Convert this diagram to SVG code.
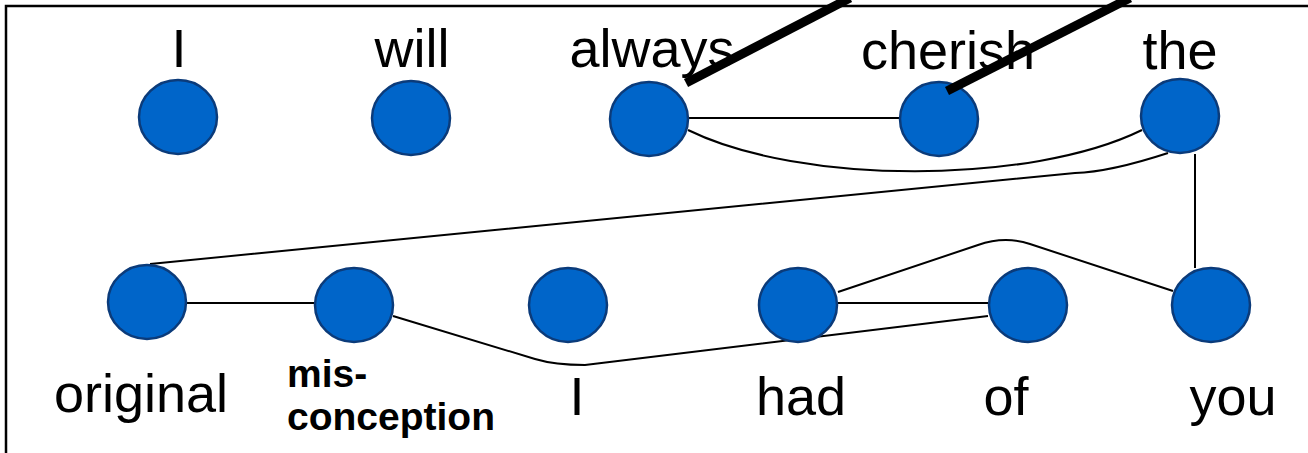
<svg xmlns="http://www.w3.org/2000/svg" width="1308" height="453" viewBox="0 0 1308 453">
  <style>
    .node { fill: #0065c9; stroke: #0b3b7a; stroke-width: 2.5; }
    .lbl { font-family: "Liberation Sans", Arial, sans-serif; font-size: 54px; fill: #000; text-anchor: middle; }
    .lbl-b { font-family: "Liberation Sans", Arial, sans-serif; font-size: 39px; font-weight: bold; fill: #000; }
    .edge { fill: none; stroke: #000; stroke-width: 2; }
    .mark { fill: none; stroke: #000; stroke-width: 9; }
    .frame { fill: none; stroke: #000; stroke-width: 2.5; }
  </style>
  <rect width="1308" height="453" fill="#fff"/>
  <!-- frame (top and left edges only) -->
  <path class="frame" d="M6,453 V6 H1308"/>

  <!-- connectors -->
  <g id="edges">
    <line class="edge" x1="688" y1="118" x2="900" y2="118"/>
    <path class="edge" d="M688,130 C800,185 1030,185 1142,130"/>
    <path class="edge" d="M1168,153 Q1110,172 1075,173 L150,264"/>
    <line class="edge" x1="1195" y1="154" x2="1195" y2="268"/>
    <line class="edge" x1="187" y1="303" x2="315" y2="303"/>
    <path class="edge" d="M393,316 L535,359 Q555,365 585,365 L988,316"/>
    <line class="edge" x1="838" y1="303" x2="988" y2="303"/>
    <path class="edge" d="M838,292 L978,245 C995,239 1012,238 1030,244 L1173,291"/>
  </g>

  <!-- top row -->
  <g id="n-I-top"><ellipse class="node" cx="178" cy="117" rx="39" ry="37"/><text class="lbl" x="179" y="67">I</text></g>
  <g id="n-will"><ellipse class="node" cx="411" cy="118" rx="39" ry="37"/><text class="lbl" x="412" y="67">will</text></g>
  <g id="n-always"><ellipse class="node" cx="649" cy="119" rx="39" ry="37"/><text class="lbl" x="652" y="67">always</text></g>
  <g id="n-cherish"><ellipse class="node" cx="939" cy="119" rx="39" ry="37"/><text class="lbl" x="948" y="69">cherish</text></g>
  <g id="n-the"><ellipse class="node" cx="1180" cy="116" rx="39" ry="37"/><text class="lbl" x="1180" y="69">the</text></g>

  <!-- bottom row -->
  <g id="n-original"><ellipse class="node" cx="147" cy="302" rx="39" ry="37"/><text class="lbl" x="141" y="412">original</text></g>
  <g id="n-misconception"><ellipse class="node" cx="354" cy="305" rx="39" ry="37"/>
    <text class="lbl-b" x="287" y="387">mis-</text><text class="lbl-b" x="287" y="430">conception</text></g>
  <g id="n-I-bottom"><ellipse class="node" cx="568" cy="305" rx="39" ry="37"/><text class="lbl" x="577" y="415">I</text></g>
  <g id="n-had"><ellipse class="node" cx="798" cy="305" rx="39" ry="37"/><text class="lbl" x="801" y="415">had</text></g>
  <g id="n-of"><ellipse class="node" cx="1028" cy="305" rx="39" ry="37"/><text class="lbl" x="1006" y="415">of</text></g>
  <g id="n-you"><ellipse class="node" cx="1211" cy="305" rx="39" ry="37"/><text class="lbl" x="1233" y="415">you</text></g>

  <!-- heavy pointer strokes -->
  <g id="pointers">
    <line class="mark" x1="686" y1="83" x2="850" y2="-2"/>
    <line class="mark" x1="947" y1="91" x2="1130" y2="-2"/>
  </g>
</svg>
